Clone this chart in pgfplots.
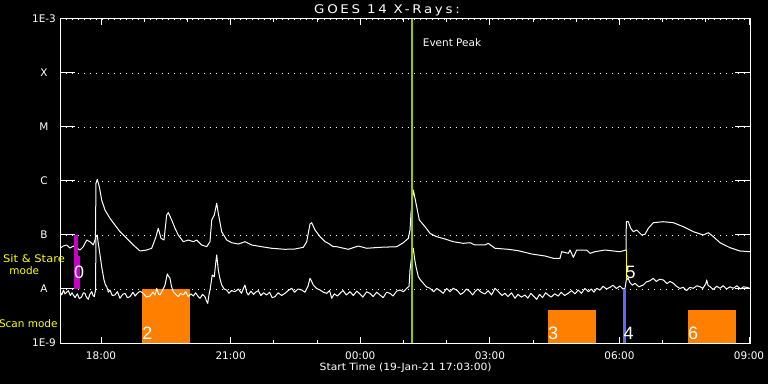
\documentclass[border=0pt]{standalone}
\usepackage{fontspec}
\setmainfont{DejaVu Sans}
\newfontfamily\digitfont{Liberation Sans}
\newfontfamily\spacedfont[LetterSpace=20]{DejaVu Sans}
\usepackage{graphicx}
\usepackage{pgfplots}
\pgfplotsset{compat=1.18}

\definecolor{evgreen}{RGB}{150,200,0}
\definecolor{scanorange}{RGB}{255,128,0}
\definecolor{sitmag}{RGB}{200,0,200}
\definecolor{barblue}{RGB}{100,100,255}
\definecolor{labyellow}{RGB}{255,255,0}

\begin{document}
\begin{tikzpicture}
\fill[black] (-60bp,-41bp) rectangle (708bp,343bp);
\begin{axis}[
  at={(0bp,0bp)}, anchor=south west,
  scale only axis, width=690bp, height=324bp,
  xmin=17.05, xmax=33.022, ymin=-9, ymax=-3,
  axis line style={white, line width=1bp},
  tick style={white, line width=1bp},
  xtick={18,21,24,27,30,33},
  xticklabels={18:00,21:00,00:00,03:00,06:00,09:00},
  minor xtick={19,20,22,23,25,26,28,29,31,32},
  ytick={-9,-8,-7,-6,-5,-4,-3},
  yticklabels={1E-9,A,B,C,M,X,1E-3},
  xtick style={/pgfplots/major tick length=6bp,/pgfplots/minor tick length=3bp},
  ytick style={/pgfplots/major tick length=15bp},
  ymajorgrids,
  major grid style={white, line width=0.9bp, dash pattern=on 1bp off 5bp},
  ticklabel style={text=white, font=\fontsize{10.5}{12}\selectfont},
  xticklabel style={anchor=center, yshift=-12.5bp},
  yticklabel style={anchor=center, xshift=-16bp},
]
% scan mode periods
\addplot[fill=scanorange, draw=none] coordinates {(18.955,-9) (18.955,-8) (20.052,-8) (20.052,-9)};
\addplot[fill=scanorange, draw=none] coordinates {(28.346,-9) (28.346,-8.389) (29.457,-8.389) (29.457,-9)};
\addplot[fill=scanorange, draw=none] coordinates {(31.587,-9) (31.587,-8.389) (32.698,-8.389) (32.698,-9)};
% long channel (1-8 A)
\addplot[white, line width=1bp, line join=round] table {
17.050 -7.246
17.126 -7.204
17.205 -7.185
17.281 -7.241
17.358 -7.204
17.513 -7.278
17.589 -7.217
17.668 -7.093
17.744 -7.124
17.821 -7.185
17.860 -7.093
17.870 -7.060
17.883 -6.043
17.913 -5.969
17.960 -6.106
18.015 -6.352
18.092 -6.537
18.207 -6.691
18.323 -6.815
18.439 -6.939
18.594 -7.061
18.747 -7.185
18.902 -7.296
19.057 -7.278
19.173 -7.246
19.272 -7.031
19.325 -6.876
19.388 -7.061
19.457 -7.093
19.520 -6.630
19.557 -6.587
19.636 -6.722
19.712 -6.876
19.788 -7.000
19.904 -7.124
20.020 -7.093
20.136 -7.124
20.214 -7.093
20.251 -7.124
20.330 -7.185
20.446 -7.217
20.522 -7.124
20.562 -6.722
20.622 -6.630
20.677 -6.413
20.714 -6.598
20.793 -6.939
20.909 -7.093
21.025 -7.143
21.177 -7.167
21.332 -7.124
21.488 -7.185
21.719 -7.217
21.950 -7.246
22.258 -7.265
22.490 -7.259
22.682 -7.228
22.761 -7.124
22.837 -6.796
22.876 -6.772
22.953 -6.907
23.069 -7.031
23.184 -7.124
23.261 -7.154
23.376 -7.217
23.455 -7.217
23.724 -7.265
23.955 -7.204
24.150 -7.246
24.457 -7.228
24.844 -7.217
24.997 -7.143
25.113 -7.061
25.152 -6.907
25.175 -6.598
25.228 -6.167
25.291 -6.413
25.367 -6.722
25.499 -6.846
25.615 -6.969
25.770 -7.031
25.962 -7.074
26.154 -7.124
26.386 -7.154
26.541 -7.143
26.656 -7.185
26.888 -7.185
26.964 -7.154
27.119 -7.246
27.427 -7.265
27.659 -7.291
27.969 -7.352
28.277 -7.389
28.469 -7.431
28.624 -7.431
28.663 -7.309
28.816 -7.339
28.856 -7.278
28.932 -7.413
29.011 -7.278
29.242 -7.278
29.319 -7.339
29.434 -7.309
29.666 -7.278
29.858 -7.296
30.013 -7.309
30.152 -7.278
30.159 -6.754
30.205 -6.754
30.261 -6.876
30.321 -6.939
30.400 -6.907
30.515 -7.000
30.592 -6.987
30.668 -6.876
30.784 -6.772
31.015 -6.754
31.247 -6.772
31.478 -6.846
31.710 -6.939
31.941 -7.000
32.057 -6.957
32.173 -7.031
32.328 -7.143
32.559 -7.235
32.791 -7.296
33.022 -7.309
};
% short channel (0.5-4 A)
\addplot[white, line width=1bp, line join=round] table {
17.050 -8.050
17.090 -8.110
17.130 -8.020
17.166 -8.093
17.205 -8.060
17.242 -8.031
17.290 -8.120
17.330 -8.070
17.358 -8.111
17.400 -8.160
17.450 -8.090
17.500 -8.180
17.552 -8.143
17.590 -8.070
17.629 -8.080
17.660 -8.150
17.705 -8.191
17.740 -8.100
17.784 -8.050
17.815 -8.120
17.844 -8.143
17.872 -8.019
17.883 -7.031
17.913 -7.000
17.935 -7.150
17.960 -7.278
18.015 -7.587
18.069 -7.833
18.100 -7.920
18.131 -7.957
18.170 -8.060
18.207 -8.019
18.260 -8.120
18.323 -8.111
18.380 -8.050
18.439 -8.172
18.500 -8.100
18.555 -8.080
18.610 -8.160
18.670 -8.143
18.740 -8.060
18.790 -8.130
18.825 -8.093
18.900 -8.040
18.978 -8.080
19.050 -8.150
19.133 -8.130
19.200 -8.060
19.250 -8.110
19.288 -7.987
19.330 -8.090
19.365 -8.111
19.420 -8.030
19.481 -7.926
19.534 -7.722
19.560 -7.760
19.596 -7.802
19.630 -7.950
19.673 -8.050
19.730 -8.100
19.788 -8.143
19.840 -8.080
19.904 -8.111
19.960 -8.050
20.020 -8.143
20.080 -8.090
20.136 -8.130
20.190 -8.070
20.251 -8.143
20.291 -8.172
20.350 -8.100
20.406 -8.143
20.440 -8.220
20.469 -8.265
20.500 -8.100
20.522 -8.019
20.575 -7.741
20.622 -7.772
20.650 -7.550
20.677 -7.370
20.695 -7.500
20.714 -7.648
20.750 -7.800
20.793 -7.926
20.850 -8.000
20.909 -8.019
20.960 -8.080
21.020 -8.030
21.101 -8.050
21.180 -8.000
21.250 -8.080
21.300 -7.980
21.332 -7.926
21.370 -8.060
21.409 -8.111
21.470 -8.040
21.530 -8.100
21.580 -8.060
21.640 -8.031
21.700 -8.120
21.760 -8.070
21.835 -8.111
21.900 -8.060
21.960 -8.160
22.027 -8.143
22.100 -8.070
22.180 -8.120
22.258 -8.080
22.330 -8.030
22.413 -7.987
22.480 -8.060
22.560 -8.000
22.645 -8.019
22.720 -8.060
22.790 -7.950
22.837 -7.802
22.870 -7.850
22.913 -7.926
22.990 -7.990
23.069 -8.019
23.150 -8.060
23.224 -8.080
23.290 -8.030
23.339 -8.172
23.400 -8.090
23.470 -8.130
23.531 -8.080
23.600 -8.030
23.680 -8.110
23.763 -8.050
23.840 -8.120
23.920 -8.040
23.994 -8.093
24.060 -8.150
24.150 -8.050
24.226 -8.080
24.300 -8.140
24.380 -8.060
24.457 -8.111
24.530 -8.160
24.610 -8.060
24.689 -8.080
24.760 -8.130
24.840 -8.040
24.920 -8.019
25.000 -8.050
25.075 -7.987
25.130 -7.950
25.152 -7.648
25.190 -7.400
25.228 -7.246
25.260 -7.450
25.291 -7.587
25.344 -7.772
25.400 -7.840
25.460 -7.894
25.530 -7.960
25.615 -7.987
25.700 -8.050
25.770 -7.990
25.846 -8.031
25.920 -8.080
26.000 -7.990
26.080 -8.050
26.154 -7.987
26.250 -8.030
26.320 -8.100
26.386 -8.069
26.460 -8.000
26.541 -8.050
26.600 -8.110
26.656 -8.050
26.720 -8.000
26.800 -8.060
26.888 -8.093
26.960 -8.030
27.040 -8.110
27.119 -7.987
27.200 -8.050
27.280 -8.120
27.351 -8.080
27.420 -8.140
27.500 -8.070
27.582 -8.172
27.650 -8.100
27.730 -8.150
27.814 -8.111
27.880 -8.170
27.950 -8.080
28.020 -8.140
28.085 -8.191
28.150 -8.100
28.220 -8.160
28.290 -8.070
28.353 -8.111
28.420 -8.150
28.500 -8.090
28.585 -8.130
28.650 -8.060
28.730 -8.120
28.816 -8.080
28.890 -8.030
28.970 -8.090
29.048 -8.019
29.120 -8.080
29.200 -7.990
29.279 -8.050
29.350 -8.000
29.410 -8.060
29.474 -7.987
29.550 -8.020
29.620 -7.950
29.700 -8.000
29.781 -7.969
29.850 -7.930
29.930 -7.990
30.013 -7.944
30.080 -8.000
30.129 -7.987
30.159 -7.833
30.200 -7.800
30.244 -7.883
30.300 -7.930
30.360 -7.894
30.450 -7.960
30.552 -7.926
30.620 -7.870
30.700 -7.850
30.784 -7.802
30.850 -7.860
30.930 -7.820
31.015 -7.833
31.100 -7.900
31.170 -7.860
31.247 -7.894
31.320 -7.950
31.400 -7.990
31.478 -7.969
31.550 -8.030
31.630 -7.970
31.710 -7.987
31.790 -7.940
31.865 -7.957
31.930 -7.990
32.000 -7.900
32.020 -7.833
32.050 -7.930
32.096 -7.957
32.170 -8.010
32.250 -7.950
32.328 -7.987
32.400 -7.940
32.480 -8.000
32.560 -7.960
32.636 -7.987
32.720 -7.940
32.800 -8.000
32.870 -7.960
32.946 -7.969
33.022 -7.990
};
% sit & stare period
\addplot[fill=sitmag, draw=none] coordinates {(17.374,-7) (17.374,-7.389) (17.460,-7.389) (17.460,-7)};
\addplot[fill=sitmag, draw=none] coordinates {(17.374,-7.389) (17.374,-8) (17.513,-8) (17.513,-7.389)};
% marker 4 and 5
\addplot[barblue, line width=3bp] coordinates {(30.117,-9) (30.117,-8)};
\addplot[labyellow, line width=1.2bp] coordinates {(30.159,-7.278) (30.159,-7.815)};
% event peak
\addplot[evgreen, line width=2bp] coordinates {(25.19,-9) (25.19,-3)};
% period numbers
\node[text=white, inner sep=0pt, font=\digitfont\fontsize{18}{18}\selectfont] at (axis cs:17.49,-7.685) {0};
\node[text=white, inner sep=0pt, font=\digitfont\fontsize{18}{18}\selectfont] at (axis cs:19.075,-8.815) {2};
\node[text=white, inner sep=0pt, font=\digitfont\fontsize{18}{18}\selectfont] at (axis cs:28.462,-8.815) {3};
\node[text=white, inner sep=0pt, font=\digitfont\fontsize{18}{18}\selectfont] at (axis cs:30.210,-8.815) {4};
\node[text=white, inner sep=0pt, font=\digitfont\fontsize{18}{18}\selectfont] at (axis cs:30.256,-7.685) {5};
\node[text=white, inner sep=0pt, font=\digitfont\fontsize{18}{18}\selectfont] at (axis cs:31.703,-8.815) {6};
\end{axis}
% titles and annotations
\node[text=white, inner sep=0pt, font=\spacedfont\fontsize{12}{14}\selectfont] at (327bp,333bp) {\scalebox{1.12}[1]{GOES 14 X-Rays:}};
\node[text=white, inner sep=0pt, font=\fontsize{10}{12}\selectfont] at (345.7bp,-25bp) {\scalebox{1.08}[1]{Start Time (19-Jan-21 17:03:00)}};
\node[text=white, inner sep=0pt, font=\fontsize{10.5}{12}\selectfont] at (392bp,300bp) {Event Peak};
\node[text=labyellow, inner sep=0pt, font=\fontsize{10.5}{12}\selectfont] at (-26bp,84bp) {\scalebox{1.1}[1]{Sit \& Stare}};
\node[text=labyellow, inner sep=0pt, font=\fontsize{10.5}{12}\selectfont] at (-35.7bp,72bp) {mode};
\node[text=labyellow, inner sep=0pt, font=\fontsize{10.5}{12}\selectfont] at (-31.7bp,19bp) {Scan mode};
\pgfresetboundingbox
\path[use as bounding box] (-60bp,-41bp) rectangle (708bp,343bp);
\end{tikzpicture}
\end{document}
